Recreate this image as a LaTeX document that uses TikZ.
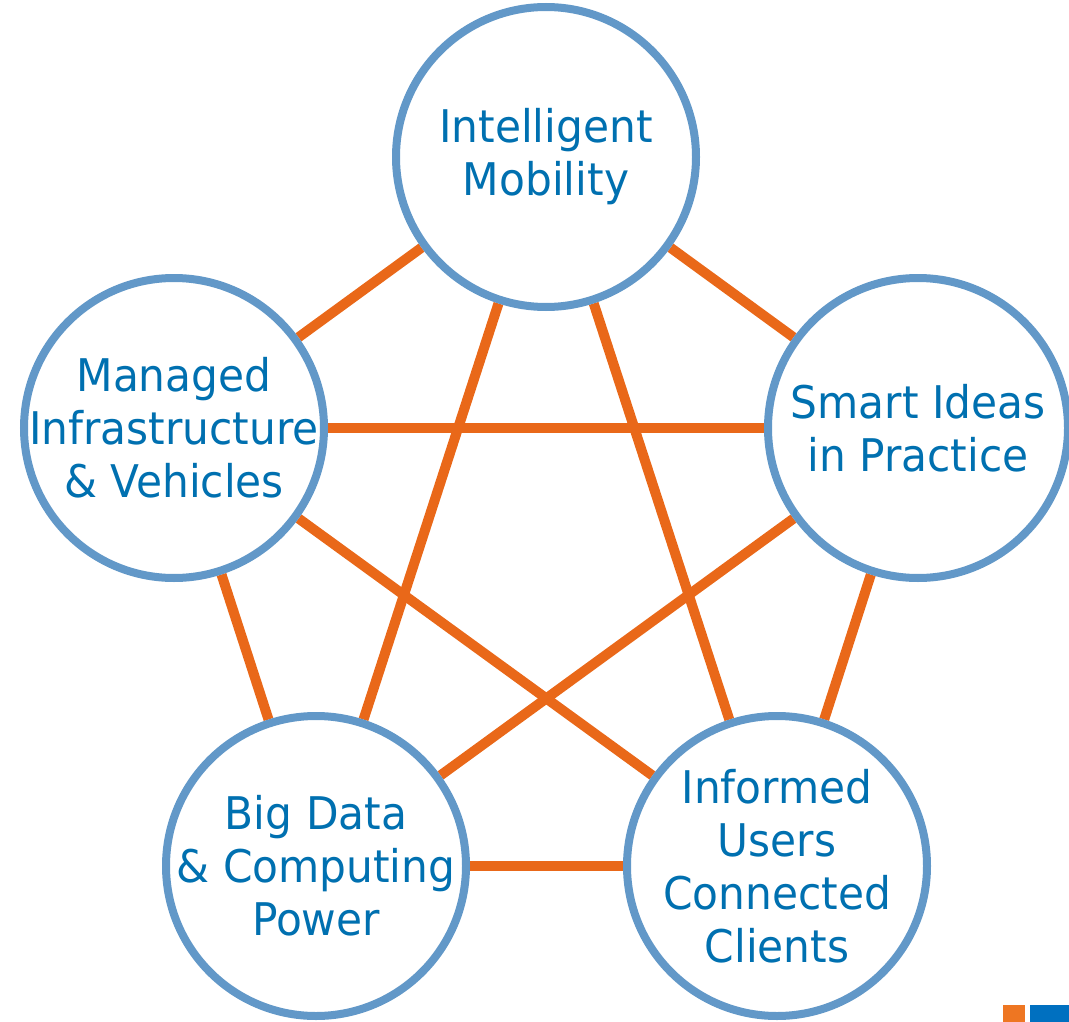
\documentclass[tikz,border=0pt]{standalone}
\usepackage{fontspec}
\setmainfont[FakeStretch=0.94]{DejaVu Sans}
\usetikzlibrary{backgrounds}
\definecolor{ringblue}{RGB}{98,152,200}
\definecolor{textblue}{RGB}{0,112,176}
\definecolor{linkorange}{RGB}{233,104,25}
\definecolor{logoblue}{RGB}{0,112,192}
\definecolor{logoorange}{RGB}{238,118,34}

\begin{document}
\begin{tikzpicture}[x=1pt,y=-1pt,
	hub/.style={circle,draw=ringblue,line width=8pt,fill=white,minimum size=300pt,inner sep=-20pt,
		align=center,text=textblue,font=\fontsize{45}{53}\selectfont},
	link/.style={linkorange,line width=10pt}]
			\useasboundingbox (0,0) rectangle (1069,1022);
			%five circles
			\node[hub] (mobility) at (546,157) {Intelligent\\Mobility};
			\node[hub] (managed) at (174,428) {Managed\\Infrastructure\\\& Vehicles};
			\node[hub] (smart) at (918,428) {Smart Ideas\\in Practice};
			\node[hub] (bigdata) at (316,866) {Big Data\\\& Computing\\Power};
			\node[hub] (informed) at (777,866) {Informed\\Users\\Connected\\Clients};
			%links between circles
			\begin{scope}[on background layer]
			\draw[link] (mobility)--(managed);
			\draw[link] (mobility)--(smart);
			\draw[link] (mobility)--(bigdata);
			\draw[link] (mobility)--(informed);
			\draw[link] (managed)--(smart);
			\draw[link] (managed)--(bigdata);
			\draw[link] (managed)--(informed);
			\draw[link] (smart)--(bigdata);
			\draw[link] (smart)--(informed);
			\draw[link] (bigdata)--(informed);
			\end{scope}
			%logo corner
			\fill[logoorange] (1003,1005) rectangle (1025,1022);
			\fill[logoblue] (1030,1005) rectangle (1069,1022);
\end{tikzpicture}
\end{document}
